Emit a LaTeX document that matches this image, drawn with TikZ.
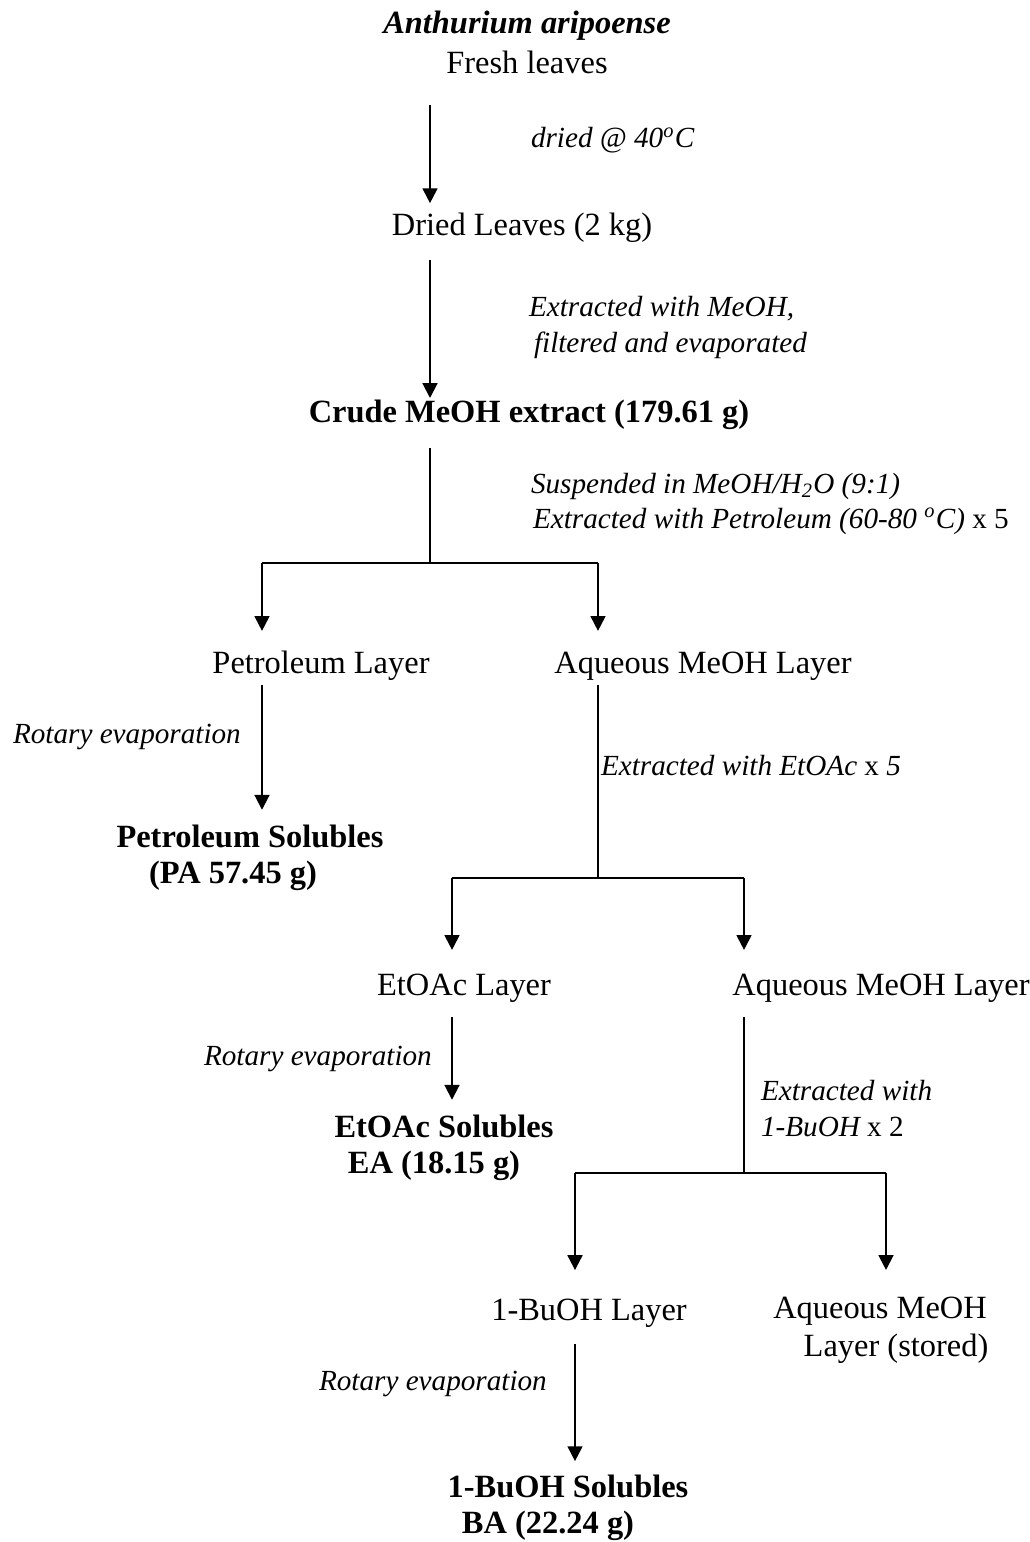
\documentclass[tikz,border=0pt]{standalone}
\usepackage{fontspec}
\setmainfont{Liberation Serif}
\usepackage{tikz}
\usetikzlibrary{arrows.meta}

\begin{document}
\begin{tikzpicture}[
    x=0.37pt, y=-0.37pt,
    every node/.style={inner sep=0pt, font=\fontsize{12}{14}\selectfont},
    stage/.style={anchor=base, text height=0.7em, text depth=0.22em},
    result/.style={stage, font=\fontsize{12}{14}\selectfont\bfseries},
    step label/.style={anchor=base west, font=\fontsize{10.8}{13}\selectfont\itshape},
    arr/.style={-{Triangle[width=5.5pt,length=5.5pt]}},
    line width=0.75pt,
  ]
  \useasboundingbox (0,0) rectangle (1030,1542);

  \node[stage, font=\fontsize{12}{14}\selectfont\bfseries\itshape] (species) at (527,34) {Anthurium aripoense};
  \node[stage] (fresh) at (527,74) {Fresh leaves};
  \node[step label] (dry) at (530,148) {dried @ 40\textsuperscript{o}C};
  \node[stage] (driedL) at (522,235) {Dried Leaves (2 kg)};
  \node[step label] (extA) at (528,316) {Extracted with MeOH,};
  \node[step label] (extB) at (533,352) {filtered and evaporated};
  \node[result] (crude) at (529,422) {Crude MeOH extract (179.61 g)};
  \node[step label] (suspA) at (530,493) {Suspended in MeOH/H\textsubscript{2}O (9:1)};
  \node[step label] (suspB) at (532,528) {Extracted with Petroleum (60-80 \textsuperscript{o}C)\upshape{} x 5};

  \node[stage] (petL) at (321,673) {Petroleum Layer};
  \node[stage] (aqL1) at (703,673) {Aqueous MeOH Layer};
  \node[step label] (rot1) at (12,743) {Rotary evaporation};
  \node[result] (petS) at (250,847) {Petroleum Solubles};
  \node[result] (petSb) at (233,883) {(PA 57.45 g)};
  \node[step label] (extE) at (600,775) {Extracted with EtOAc\upshape{} x \itshape{}5};

  \node[stage] (etL) at (464,995) {EtOAc Layer};
  \node[stage] (aqL2) at (881,995) {Aqueous MeOH Layer};
  \node[step label] (rot2) at (203,1065) {Rotary evaporation};
  \node[result] (etS) at (444,1137) {EtOAc Solubles};
  \node[result] (etSb) at (434,1173) {EA (18.15 g)};
  \node[step label] (extBuA) at (760,1100) {Extracted with};
  \node[step label] (extBuB) at (760,1136) {1-BuOH\upshape{} x 2};

  \node[stage] (buL) at (589,1320) {1-BuOH Layer};
  \node[stage] (aqL3) at (880,1318) {Aqueous MeOH};
  \node[stage] (aqL3b) at (896,1356) {Layer (stored)};
  \node[step label] (rot3) at (318,1390) {Rotary evaporation};
  \node[result] (buS) at (568,1497) {1-BuOH Solubles};
  \node[result] (buSb) at (548,1533) {BA (22.24 g)};

  \coordinate (j1) at (430,563);
  \coordinate (b1l) at (262,563);
  \coordinate (b1r) at (598,563);
  \coordinate (j2) at (598,878);
  \coordinate (b2l) at (452,878);
  \coordinate (b2r) at (744,878);
  \coordinate (j3) at (744,1173);
  \coordinate (b3l) at (575,1173);
  \coordinate (b3r) at (886,1173);

  \draw[arr, shorten <=8.9pt, shorten >=4.4pt] (fresh.south -| j1) -- (driedL.north -| j1);
  \draw[arr, shorten <=6.7pt, shorten >=1.5pt] (driedL.south -| j1) -- (crude.north -| j1);
  \draw[shorten <=7pt] (crude.south -| j1) -- (j1);
  \draw (b1l) -- (b1r);
  \draw[arr, shorten >=8.2pt] (b1l) -- (petL.north -| b1l);
  \draw[arr, shorten >=8.2pt] (b1r) -- (aqL1.north -| b1r);

  \draw[arr, shorten <=1.8pt, shorten >=6.4pt] (petL.south -| b1l) -- (petS.north -| b1l);
  \draw[shorten <=1.8pt] (aqL1.south -| j2) -- (j2);
  \draw (b2l) -- (b2r);
  \draw[arr, shorten >=9.3pt] (b2l) -- (etL.north -| b2l);
  \draw[arr, shorten >=9.3pt] (b2r) -- (aqL2.north -| b2r);

  \draw[arr, shorten <=5.6pt, shorten >=6.4pt] (etL.south -| b2l) -- (etS.north -| b2l);
  \draw[shorten <=5.6pt] (aqL2.south -| j3) -- (j3);
  \draw (b3l) -- (b3r);
  \draw[arr, shorten >=11.1pt] (b3l) -- (buL.north -| b3l);
  \draw[arr, shorten >=10.4pt] (b3r) -- (aqL3.north -| b3r);

  \draw[arr, shorten <=6.3pt, shorten >=5.9pt] (buL.south -| b3l) -- (buS.north -| b3l);

\end{tikzpicture}
\end{document}
